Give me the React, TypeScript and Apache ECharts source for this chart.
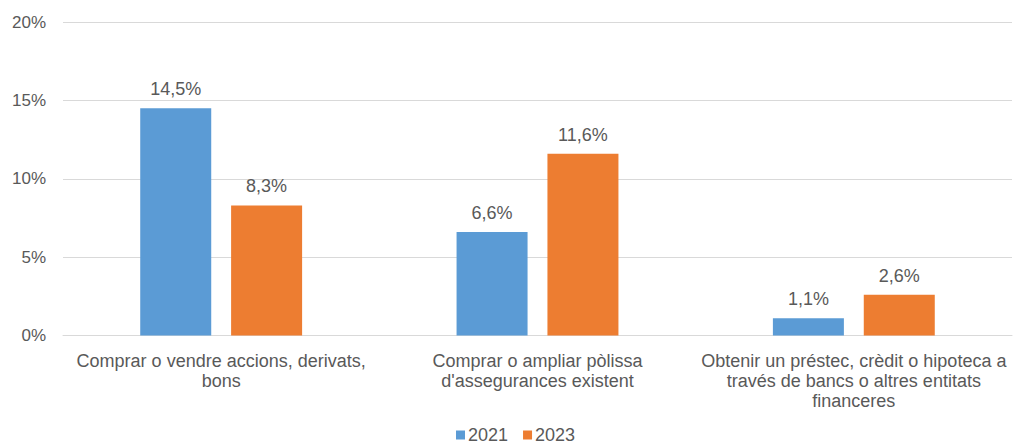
import React, { useEffect, useRef } from "react";
import * as echarts from "echarts";

const categories = [
  "Comprar o vendre accions, derivats,\nbons",
  "Comprar o ampliar pòlissa\nd'assegurances existent",
  "Obtenir un préstec, crèdit o hipoteca a\ntravés de bancs o altres entitats\nfinanceres",
];
const series2021 = [14.5, 6.6, 1.1];
const series2023 = [8.3, 11.6, 2.6];
const seriesNames = ["2021", "2023"];
const colors = ["#5b9bd5", "#ed7d31"];

const FONT = "'Liberation Sans', Arial, sans-serif";
const TXT = "#595959";

const fmt = (v: number) => v.toFixed(1).replace(".", ",") + "%";

export default function App() {
  const ref = useRef<HTMLDivElement>(null);
  useEffect(() => {
    if (!ref.current) return;
    const chart = echarts.init(ref.current, undefined, { renderer: "svg" });
    const label = {
      show: true,
      position: "top" as const,
      distance: 10,
      color: TXT,
      fontSize: 18,
      fontFamily: FONT,
      formatter: (p: any) => fmt(p.value),
    };
    chart.setOption({
      animation: false,
      textStyle: { fontFamily: FONT },
      grid: { left: 63, right: 1, top: 22, bottom: 110.5, containLabel: false },
      legend: {
        top: 426,
        left: 456,
        padding: 0,
        itemWidth: 9,
        itemHeight: 9,
        itemGap: 15,
        icon: "rect",
        textStyle: {
          color: TXT,
          fontSize: 18,
          lineHeight: 18,
          fontFamily: FONT,
          padding: [0, 0, 0, -2],
        },
        data: seriesNames,
      },
      xAxis: {
        type: "category",
        data: categories,
        axisLine: { show: true, lineStyle: { color: "#d9d9d9", width: 1 } },
        axisTick: { show: false },
        axisLabel: {
          color: TXT,
          fontSize: 18,
          fontFamily: FONT,
          lineHeight: 20,
          margin: 15,
          interval: 0,
        },
      },
      yAxis: {
        type: "value",
        min: 0,
        max: 20,
        interval: 5,
        axisLine: { show: false },
        axisTick: { show: false },
        splitLine: { lineStyle: { color: "#d9d9d9", width: 1 } },
        axisLabel: {
          color: TXT,
          fontSize: 17,
          fontFamily: FONT,
          margin: 17,
          formatter: (v: number) => v + "%",
        },
      },
      series: [
        {
          name: seriesNames[0],
          type: "bar",
          data: series2021,
          barWidth: 71,
          barGap: "28%",
          itemStyle: { color: colors[0] },
          label,
        },
        {
          name: seriesNames[1],
          type: "bar",
          data: series2023,
          barWidth: 71,
          barGap: "28%",
          itemStyle: { color: colors[1] },
          label,
        },
      ],
    });
    return () => chart.dispose();
  }, []);
  return (
    <div
      ref={ref}
      style={{ position: "fixed", left: 0, top: 0, width: 1013, height: 446, background: "#fff" }}
    />
  );
}
